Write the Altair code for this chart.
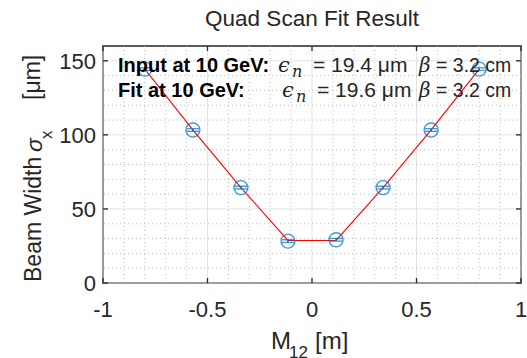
import altair as alt
import pandas as pd

# Quad scan: measured beam width vs. M12, with the fitted curve
m12 = [-0.80, -0.57, -0.34, -0.115, 0.115, 0.34, 0.57, 0.80]
sigma_meas = [144.4, 103.3, 64.4, 28.3, 29.2, 64.4, 103.3, 144.4]
sigma_err = [0.9, 0.9, 0.9, 0.9, 0.9, 0.9, 0.9, 0.9]
sigma_fit = [144.4, 103.4, 64.4, 28.7, 28.7, 64.4, 103.4, 144.4]

x_ticks = [-1, -0.5, 0, 0.5, 1]
y_ticks = [0, 50, 100, 150]
x_minor = [-0.9, -0.8, -0.7, -0.6, -0.4, -0.3, -0.2, -0.1,
           0.1, 0.2, 0.3, 0.4, 0.6, 0.7, 0.8, 0.9]
y_minor = [10, 20, 30, 40, 60, 70, 80, 90, 110, 120, 130, 140]

energy_gev = 10
eps_input, eps_fit = 19.4, 19.6
beta_input, beta_fit = 3.2, 3.2

W, H = 418, 237
SANS = "Liberation Sans"
SERIF = "DejaVu Serif"
INK = "#262626"
BLUE = "#0072BD"

df = pd.DataFrame({"m12": m12, "meas": sigma_meas, "err": sigma_err, "fit": sigma_fit})
df["lo"] = df["meas"] - df["err"]
df["hi"] = df["meas"] + df["err"]

xs = alt.Scale(domain=[-1, 1], nice=False, zero=False)
ys = alt.Scale(domain=[0, 160], nice=False, zero=False)
X = lambda f: alt.X(f, scale=xs, axis=None)
Y = lambda f: alt.Y(f, scale=ys, axis=None)

base = alt.Chart(df)

fit_line = base.mark_line(color="#ff0000", strokeWidth=1.1).encode(x=X("m12:Q"), y=Y("fit:Q"))
circles = base.mark_point(shape="circle", size=196, filled=False, strokeWidth=1.4, color=BLUE).encode(
    x=X("m12:Q"), y=Y("meas:Q"))
err_bar = base.mark_rule(color=BLUE, strokeWidth=1.4).encode(x=X("m12:Q"), y=Y("lo:Q"), y2="hi:Q")
cap_lo = base.mark_point(shape="stroke", size=160, strokeWidth=1.4, color=BLUE).encode(
    x=X("m12:Q"), y=Y("lo:Q"))
cap_hi = base.mark_point(shape="stroke", size=160, strokeWidth=1.4, color=BLUE).encode(
    x=X("m12:Q"), y=Y("hi:Q"))

# grid: solid major lines, dotted minor lines
xt = pd.DataFrame({"v": x_ticks, "lab": [f"{v:g}" for v in x_ticks]})
yt = pd.DataFrame({"v": y_ticks, "lab": [f"{v:g}" for v in y_ticks]})
major_x = alt.Chart(xt).mark_rule(color="#e3e3e3", strokeWidth=1).encode(x=X("v:Q"))
major_y = alt.Chart(yt).mark_rule(color="#e3e3e3", strokeWidth=1).encode(y=Y("v:Q"))
minor_x = alt.Chart(pd.DataFrame({"v": x_minor})).mark_rule(
    color="#bdbdbd", strokeWidth=1, strokeDash=[1, 3]).encode(x=X("v:Q"))
minor_y = alt.Chart(pd.DataFrame({"v": y_minor})).mark_rule(
    color="#bdbdbd", strokeWidth=1, strokeDash=[1, 3]).encode(y=Y("v:Q"))

# inward tick marks on all four sides
tk = dict(color=INK, strokeWidth=1.3)
ticks = [
    alt.Chart(xt).mark_rule(**tk).encode(x=X("v:Q"), y=alt.value(H), y2=alt.value(H - 5)),
    alt.Chart(xt).mark_rule(**tk).encode(x=X("v:Q"), y=alt.value(0), y2=alt.value(5)),
    alt.Chart(yt).mark_rule(**tk).encode(y=Y("v:Q"), x=alt.value(0), x2=alt.value(5)),
    alt.Chart(yt).mark_rule(**tk).encode(y=Y("v:Q"), x=alt.value(W), x2=alt.value(W - 5)),
]

# tick labels
x_labels = alt.Chart(xt).mark_text(font=SANS, fontSize=22, color=INK, align="center",
                                   baseline="alphabetic").encode(
    x=X("v:Q"), y=alt.value(271), text="lab:N")
y_labels = alt.Chart(yt).mark_text(font=SANS, fontSize=22, color=INK, align="right",
                                   baseline="alphabetic", dy=8).encode(
    y=Y("v:Q"), x=alt.value(-7), text="lab:N")


def txt(text, x, y, size, font=SANS, weight="normal", style="normal", angle=0, align="left"):
    return alt.Chart(pd.DataFrame({"t": [text]})).mark_text(
        align=align, baseline="alphabetic", font=font, fontSize=size, fontWeight=weight,
        fontStyle=style, angle=angle, color="black" if weight == "bold" else INK,
    ).encode(x=alt.value(x), y=alt.value(y), text="t:N")


texts = [
    # title
    txt("Quad Scan Fit Result", W / 2, -20, 22.5, align="center"),
    # x-axis title with subscript
    txt("M", 168, 303, 24),
    txt("12", 186, 312, 17),
    txt("[m]", 212, 303, 24),
    # y-axis title (rotated) with subscript
    txt("Beam Width", -62, 236, 23, angle=270),
    txt("σ", -61, 106, 23, style="italic", angle=270),
    txt("x", -51, 93, 17, angle=270),
    txt("[μm]", -63, 54, 23, angle=270),
    # fit summary box
    txt(f"Input at {energy_gev} GeV:", 15, 26, 20, weight="bold"),
    txt(f"Fit at {energy_gev} GeV:", 15, 51, 20, weight="bold"),
]
for row, (eps, beta) in enumerate([(eps_input, beta_input), (eps_fit, beta_fit)]):
    yb = 26 + 25 * row
    d = 4 * row
    texts += [
        txt("ϵ", 175 + d, yb, 21, font=SERIF, style="italic"),
        txt("n", 189 + d, yb + 5, 16, font=SERIF, style="italic"),
        txt(f"= {eps} μm", 210 + d, yb, 21),
        txt("β", 316, yb, 20, font=SERIF, style="italic"),
        txt(f"= {beta} cm", 333, yb, 19.5),
    ]

chart = alt.layer(
    major_x, major_y, minor_x, minor_y, fit_line, err_bar, cap_lo, cap_hi, circles,
    *ticks, x_labels, y_labels, *texts,
).properties(
    width=W, height=H,
    padding={"left": 103, "top": 46, "right": 6, "bottom": 75},
    autosize=alt.AutoSizeParams(type="none"),
    background="white",
).configure_view(stroke=INK, strokeWidth=1.6)

chart.save("out.html", embed_options={"renderer": "svg", "actions": False})
